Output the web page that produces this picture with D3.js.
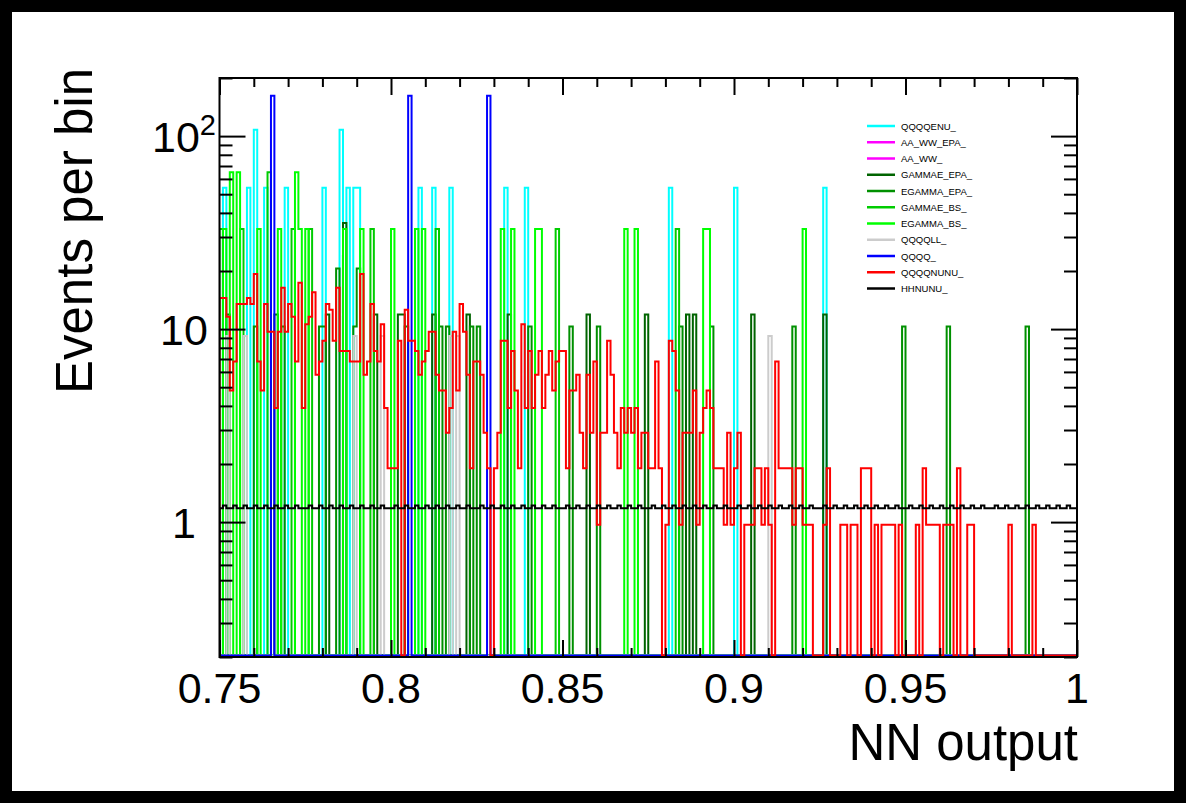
<!DOCTYPE html>
<html>
<head>
<meta charset="utf-8">
<script src="https://cdn.jsdelivr.net/npm/d3@7"></script>
<style>
  body { margin: 0; background: #000; }
  svg { display: block; }
  text { font-family: "Liberation Sans", Arial, Helvetica, sans-serif; }
</style>
</head>
<body>
<svg id="chart" width="1186" height="803"></svg>
<script>
// histogram binning: 250 bins of 0.001 from 0.75 to 1.0
const binLow = 0.75, binWidth = 0.001, nBins = 250;

// dense series (one value per bin)
const qqqqnunu = [
  14.5,14.5,11.6,4.8,6.8,13.5,13.5,13.5,14.5,13.5,
  19.3,6.8,4.8,13.5,9.7,9.7,3.9,9.7,16.4,9.7,
  13.5,11.6,6.8,17.4,3.9,10.6,11.6,15.5,5.8,6.8,
  8.7,13.5,12.6,8.7,16.4,7.7,7.7,7.7,6.8,6.8,
  6.8,19.3,5.8,6.8,13.5,7.7,6.8,10.6,3.9,1.9,
  1.9,1.9,8.7,0,12.6,8.7,8.7,7.7,5.8,6.8,
  7.7,9.7,9.7,5.8,4.8,4.8,2.9,3.9,9.7,4.8,
  13.5,9.7,5.8,1.9,6.8,6.8,5.8,2.9,1.9,0,
  1.9,2.9,8.7,8.7,3.9,7.7,4.8,1.9,10.6,3.9,
  7.7,3.9,5.8,7.7,3.9,5.8,7.7,4.8,6.8,7.7,
  7.7,1.9,4.8,4.8,5.8,2.9,1.9,5.8,2.9,6.8,
  0.97,2.9,2.9,8.7,5.8,2.9,1.9,3.9,2.9,3.9,
  2.9,3.9,1.9,2.9,2.9,1.9,1.9,6.8,1.9,0,
  0.97,8.7,7.7,4.8,0.97,2.9,2.9,2.9,4.8,0.97,
  2.9,3.9,4.8,3.9,1.9,1.9,1.9,0.97,2.9,0.97,
  1.9,2.9,0,0.97,0.97,0.97,1.9,1.9,0.97,1.9,
  0.97,0,6.8,1.9,1.9,1.9,1.9,0.97,1.9,1.9,
  0.97,0.97,0.97,0,0,0,0.97,1.9,0,0,
  0,0.97,0.97,0,0.97,0.97,0,1.9,1.9,1.9,
  0,0.97,0,0.97,0.97,0.97,0.97,0,0.97,0,
  0,0,0,0.97,0,1.9,0.97,0.97,0.97,0.97,
  0,0.97,0.97,0.97,0,1.9,0,0,0.97,0.97,
  0,0,0,0,0,0,0,0,0,0,
  0.97,0,0,0,0,0,0,0.97,0,0,
  0,0,0,0,0,0,0,0,0,0
];

const hhnunu = [
  1.18,1.22,1.18,1.18,1.22,1.18,1.18,1.22,1.18,1.18,1.22,1.18,1.18,1.22,1.18,1.18,1.22,1.18,1.18,1.22,1.18,1.18,1.22,1.18,1.18,
  1.18,1.22,1.18,1.18,1.22,1.18,1.18,1.22,1.18,1.18,1.22,1.18,1.18,1.22,1.18,1.18,1.22,1.18,1.18,1.22,1.18,1.18,1.22,1.18,1.18,
  1.18,1.22,1.18,1.18,1.22,1.18,1.18,1.22,1.18,1.18,1.22,1.18,1.18,1.22,1.18,1.18,1.22,1.18,1.18,1.22,1.18,1.18,1.22,1.18,1.18,
  1.18,1.22,1.18,1.18,1.22,1.18,1.18,1.22,1.18,1.18,1.22,1.18,1.18,1.22,1.18,1.18,1.22,1.18,1.18,1.22,1.18,1.18,1.22,1.18,1.18,
  1.18,1.22,1.18,1.18,1.22,1.18,1.18,1.22,1.18,1.18,1.22,1.18,1.18,1.22,1.18,1.18,1.22,1.18,1.18,1.22,1.18,1.18,1.22,1.18,1.18,
  1.18,1.22,1.18,1.18,1.22,1.18,1.18,1.22,1.18,1.18,1.22,1.18,1.18,1.22,1.18,1.18,1.22,1.18,1.18,1.22,1.18,1.18,1.22,1.18,1.18,
  1.18,1.22,1.18,1.18,1.22,1.18,1.18,1.22,1.18,1.18,1.22,1.18,1.18,1.22,1.18,1.18,1.22,1.18,1.18,1.22,1.18,1.18,1.22,1.18,1.18,
  1.18,1.22,1.18,1.18,1.22,1.18,1.18,1.22,1.18,1.18,1.22,1.18,1.18,1.22,1.18,1.18,1.22,1.18,1.18,1.22,1.18,1.18,1.22,1.18,1.18,
  1.18,1.22,1.18,1.18,1.22,1.18,1.18,1.22,1.18,1.18,1.22,1.18,1.18,1.22,1.18,1.18,1.22,1.18,1.18,1.22,1.18,1.18,1.22,1.18,1.18,
  1.18,1.22,1.18,1.18,1.22,1.18,1.18,1.22,1.18,1.18,1.22,1.18,1.18,1.22,1.18,1.18,1.22,1.18,1.18,1.22,1.18,1.18,1.22,1.18,1.18
];

// sparse series: [bin index, content], all other bins empty
const qqqqenu = [[1,54],[8,54],[10,108],[13,54],[19,54],[30,54],[35,108],[37,54],[39,54],[40,54],
  [58,54],[62,54],[67,54],[83,54],[89,54],[131,54],[150,54],[176,54]];
const aaWwEpa = [];
const aaWw = [];
const gammaeEpa = [[2,11.9],[16,11.9],[31,11.9],[36,35.5],[45,11.9],[52,11.9],[53,11.9],[62,11.9],[72,11.9],
  [84,11.9],[107,11.9],[124,11.9],[136,11.9],[138,11.9],[155,11.9],[176,11.9]];
const egammaEpa = [[10,10.3],[18,10.3],[29,10.3],[30,10.3],[34,20.6],[39,10.3],[40,20.6],[54,10.3],[64,10.3],
  [66,10.3],[73,10.3],[75,10.3],[90,10.3],[102,10.3],[110,10.3],[134,10.3],[143,10.3],[167,10.3],
  [199,10.3],[212,10.3],[235,10.3]];
const gammaeBs = [[0,33],[6,33],[14,65],[21,33],[26,33],[44,33],[63,33],[98,33],[133,33]];
const egammaBs = [[1,33],[3,65],[5,65],[11,33],[17,33],[22,65],[23,33],[25,33],[36,33],[41,33],[50,33],
  [57,33],[59,33],[82,33],[85,33],[92,33],[93,33],[118,33],[121,33],[141,33],[142,33],[170,33]];
const qqqqll = [[2,9.2],[7,9.2],[39,9.2],[47,9.2],[67,9.2],[69,9.2],[160,9.2]];
const qqqq = [[15,162],[55,162],[78,162]];

// legend / draw order
const seriesNames = ['QQQQENU_','AA_WW_EPA_','AA_WW_','GAMMAE_EPA_','EGAMMA_EPA_','GAMMAE_BS_','EGAMMA_BS_','QQQQLL_','QQQQ_','QQQQNUNU_','HHNUNU_'];
const seriesColors = ['#00ffff','#ff00ff','#ff00ff','#006400','#009000','#00cc00','#00ff00','#cccccc','#0000ff','#ff0000','#000000'];

// axes
const xMajor = [0.75, 0.8, 0.85, 0.9, 0.95, 1.0];
const xMajorLabels = ['0.75','0.8','0.85','0.9','0.95','1'];
const xMinor = [0.76,0.77,0.78,0.79,0.81,0.82,0.83,0.84,0.86,0.87,0.88,0.89,0.91,0.92,0.93,0.94,0.96,0.97,0.98,0.99];
const yMajor = [1, 10, 100];
const yMinor = [0.2,0.3,0.4,0.5,0.6,0.7,0.8,0.9,2,3,4,5,6,7,8,9,20,30,40,50,60,70,80,90,200];

function fromSparse(list) {
  const arr = new Array(nBins).fill(0);
  list.forEach(([b, v]) => { arr[b] = v; });
  return arr;
}

const seriesValues = [fromSparse(qqqqenu), fromSparse(aaWwEpa), fromSparse(aaWw), fromSparse(gammaeEpa),
  fromSparse(egammaEpa), fromSparse(gammaeBs), fromSparse(egammaBs), fromSparse(qqqqll), fromSparse(qqqq),
  qqqqnunu, hhnunu];

const svg = d3.select('#chart');
const plotLeft = 219.5, plotRight = 1077, plotTop = 78, plotBottom = 657;

svg.append('rect').attr('x', 12).attr('y', 12).attr('width', 1162).attr('height', 779).attr('fill', '#fff');

const x = d3.scaleLinear().domain([0.75, 1.0]).range([plotLeft, plotRight]);
const y = d3.scaleLog().domain([0.2, 200]).range([plotBottom, plotTop]);
const yMin = 0.2;

svg.append('clipPath').attr('id', 'frame-clip')
  .append('rect').attr('x', plotLeft).attr('y', plotTop).attr('width', plotRight - plotLeft).attr('height', plotBottom - plotTop);

// empty bins sit on the bottom of the frame
const yPix = v => v > yMin ? y(v) : plotBottom - 1.5;

const line = d3.line().x(d => x(d[0])).y(d => yPix(d[1]));

function stepPoints(vals) {
  const pts = [[binLow, 0]];
  vals.forEach((v, i) => {
    pts.push([binLow + i * binWidth, v]);
    pts.push([binLow + (i + 1) * binWidth, v]);
  });
  pts.push([binLow + nBins * binWidth, 0]);
  return pts;
}

const gHist = svg.append('g').attr('clip-path', 'url(#frame-clip)');
seriesValues.forEach((vals, i) => {
  gHist.append('path')
    .datum(stepPoints(vals))
    .attr('fill', 'none')
    .attr('stroke', seriesColors[i])
    .attr('stroke-width', 2)
    .attr('stroke-linejoin', 'miter')
    .attr('d', line);
});

// ticks on all four sides
function styleAxis(g) {
  g.select('.domain').remove();
  g.selectAll('line').attr('stroke', '#000').attr('stroke-width', 2);
}
svg.append('g').attr('transform', `translate(0,${plotBottom})`)
  .call(d3.axisBottom(x).tickValues(xMajor).tickSize(-17).tickFormat('')).call(styleAxis);
svg.append('g').attr('transform', `translate(0,${plotBottom})`)
  .call(d3.axisBottom(x).tickValues(xMinor).tickSize(-9).tickFormat('')).call(styleAxis);
svg.append('g').attr('transform', `translate(0,${plotTop})`)
  .call(d3.axisTop(x).tickValues(xMajor).tickSize(-17).tickFormat('')).call(styleAxis);
svg.append('g').attr('transform', `translate(0,${plotTop})`)
  .call(d3.axisTop(x).tickValues(xMinor).tickSize(-9).tickFormat('')).call(styleAxis);
svg.append('g').attr('transform', `translate(${plotLeft},0)`)
  .call(d3.axisLeft(y).tickValues(yMajor).tickSize(-26).tickFormat('')).call(styleAxis);
svg.append('g').attr('transform', `translate(${plotLeft},0)`)
  .call(d3.axisLeft(y).tickValues(yMinor).tickSize(-13).tickFormat('')).call(styleAxis);
svg.append('g').attr('transform', `translate(${plotRight},0)`)
  .call(d3.axisRight(y).tickValues(yMajor).tickSize(-26).tickFormat('')).call(styleAxis);
svg.append('g').attr('transform', `translate(${plotRight},0)`)
  .call(d3.axisRight(y).tickValues(yMinor).tickSize(-13).tickFormat('')).call(styleAxis);

svg.append('rect').attr('x', plotLeft).attr('y', plotTop).attr('width', plotRight - plotLeft).attr('height', plotBottom - plotTop)
  .attr('fill', 'none').attr('stroke', '#000').attr('stroke-width', 2);

// tick labels
svg.append('g').selectAll('text').data(xMajor).join('text')
  .attr('x', d => x(d)).attr('y', 703)
  .attr('text-anchor', 'middle').attr('font-size', 43).attr('fill', '#000')
  .text((d, i) => xMajorLabels[i]);

const yLab = svg.append('g');
yMajor.forEach(v => {
  const t = yLab.append('text').attr('x', 184).attr('y', y(v) + 15.5)
    .attr('text-anchor', 'middle').attr('font-size', 43).attr('fill', '#000');
  if (v === 100) {
    t.append('tspan').text('10');
    t.append('tspan').attr('font-size', 29).attr('dy', -17).text('2');
  } else {
    t.text(String(v));
  }
});

// axis titles
svg.append('text').attr('x', 1078).attr('y', 760).attr('text-anchor', 'end')
  .attr('font-size', 51).attr('fill', '#000').text('NN output');
svg.append('text').attr('transform', 'translate(92,68) rotate(-90)').attr('text-anchor', 'end')
  .attr('font-size', 51).attr('fill', '#000').text('Events per bin');

// legend
const leg = svg.append('g');
seriesNames.forEach((name, i) => {
  const yy = 126 + i * 16.25;
  leg.append('line').attr('x1', 867).attr('x2', 895).attr('y1', yy).attr('y2', yy)
    .attr('stroke', seriesColors[i]).attr('stroke-width', 2.5);
  leg.append('text').attr('x', 901).attr('y', yy + 3.5).attr('font-size', 9.5).attr('fill', '#000').text(name);
});
</script>
</body>
</html>
